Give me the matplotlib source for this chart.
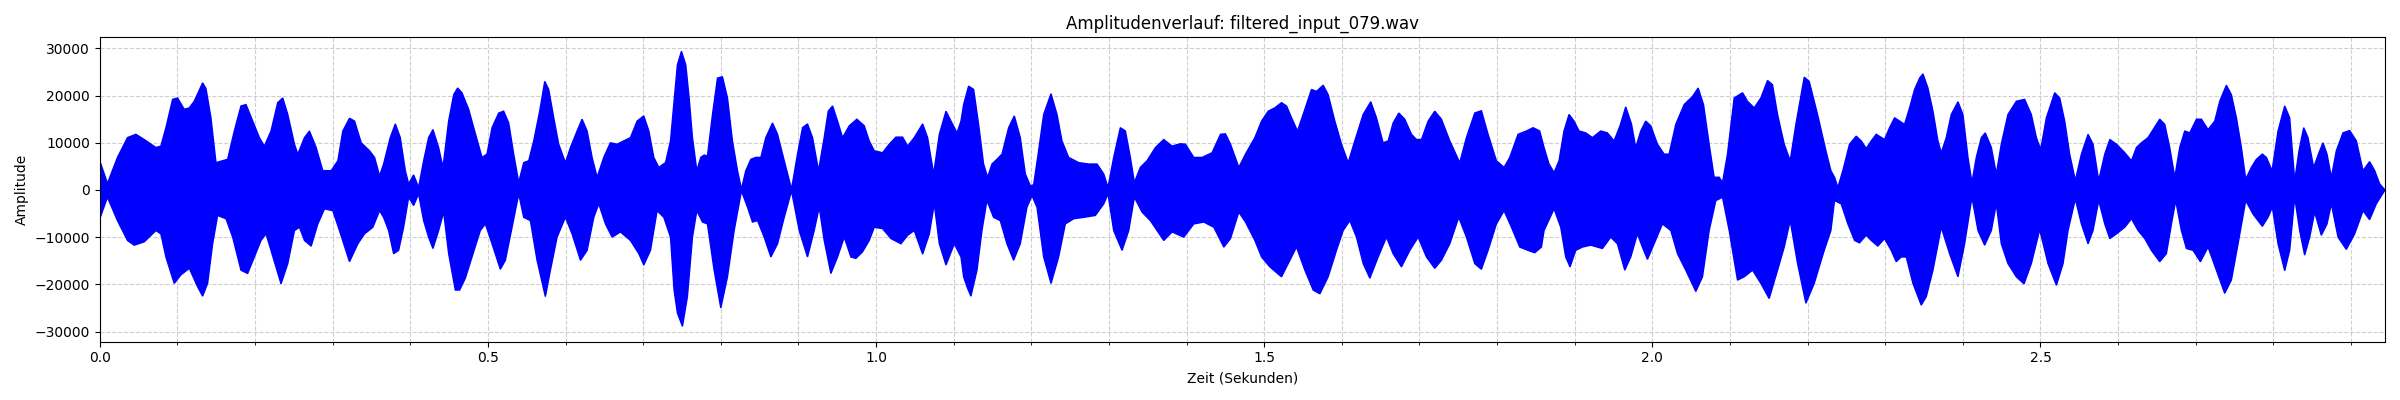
import numpy as np
import matplotlib
matplotlib.use("Agg")
import matplotlib.pyplot as plt
from matplotlib.ticker import MultipleLocator

title = "Amplitudenverlauf: filtered_input_079.wav"
x_label = "Zeit (Sekunden)"
y_label = "Amplitude"
duration = 2.9438

# Upper envelope of the waveform (time in s, amplitude)
upper_t = [
    0.0000, 0.0099, 0.0228, 0.0357, 0.0465, 0.0572, 0.0723, 0.0787, 0.0852, 0.0938,
    0.1002, 0.1088, 0.1153, 0.1217, 0.1325, 0.1368, 0.1432, 0.1497, 0.1583, 0.1647,
    0.1733, 0.1819, 0.1884, 0.1970, 0.2056, 0.2120, 0.2206, 0.2292, 0.2357, 0.2422,
    0.2508, 0.2551, 0.2637, 0.2701, 0.2787, 0.2873, 0.2981, 0.3067, 0.3131, 0.3217,
    0.3282, 0.3368, 0.3475, 0.3540, 0.3604, 0.3656,
    0.3742, 0.3807, 0.3871, 0.3936, 0.3979, 0.4043, 0.4107, 0.4172, 0.4236, 0.4292,
    0.4365, 0.4421, 0.4494, 0.4559, 0.4610, 0.4666, 0.4752, 0.4817, 0.4924, 0.4988,
    0.5053, 0.5139, 0.5203, 0.5268, 0.5332, 0.5397, 0.5461, 0.5526, 0.5590, 0.5667,
    0.5732, 0.5783, 0.5848, 0.5912, 0.5998, 0.6063, 0.6149, 0.6213, 0.6278, 0.6342,
    0.6407, 0.6492, 0.6578, 0.6664, 0.6750, 0.6836, 0.6922, 0.7008, 0.7073, 0.7137,
    0.7202, 0.7288, 0.7352,
    0.7398, 0.7441, 0.7493, 0.7549, 0.7592, 0.7635, 0.7691, 0.7742, 0.7785, 0.7828,
    0.7893, 0.7957, 0.8021, 0.8086, 0.8150, 0.8215, 0.8266, 0.8322, 0.8387, 0.8451,
    0.8516, 0.8580, 0.8666, 0.8731, 0.8817, 0.8911, 0.8988, 0.9053, 0.9117, 0.9182,
    0.9259, 0.9332, 0.9384, 0.9440, 0.9504, 0.9569, 0.9655, 0.9753, 0.9848, 0.9912,
    0.9977, 1.0084, 1.0170, 1.0256, 1.0342, 1.0407, 1.0492, 1.0600, 1.0664, 1.0742,
    1.0815, 1.0901, 1.0965, 1.1043, 1.1094,
    1.1128, 1.1192, 1.1257, 1.1321, 1.1385, 1.1437, 1.1493, 1.1557, 1.1622, 1.1708,
    1.1781, 1.1858, 1.1923, 1.1987, 1.2030, 1.2082, 1.2159, 1.2254, 1.2331, 1.2395,
    1.2481, 1.2610, 1.2739, 1.2847, 1.2933, 1.2988, 1.3061, 1.3147, 1.3212, 1.3276,
    1.3328, 1.3405, 1.3491, 1.3599, 1.3706, 1.3813, 1.3921, 1.3985, 1.4093, 1.4200,
    1.4329, 1.4437, 1.4501, 1.4566, 1.4673, 1.4759,
    1.4880, 1.4966, 1.5052, 1.5137, 1.5223, 1.5288, 1.5352, 1.5429, 1.5502, 1.5609,
    1.5674, 1.5760, 1.5824, 1.5910, 1.5996, 1.6082, 1.6167, 1.6275, 1.6373, 1.6446,
    1.6532, 1.6597, 1.6661, 1.6734, 1.6811, 1.6897, 1.6961, 1.7026, 1.7112, 1.7197,
    1.7283, 1.7391, 1.7519, 1.7605, 1.7712, 1.7798, 1.7884, 1.7991, 1.8090, 1.8163,
    1.8270, 1.8378, 1.8464, 1.8549,
    1.8605, 1.8669, 1.8734, 1.8798, 1.8862, 1.8927, 1.8991, 1.9056, 1.9142, 1.9228,
    1.9335, 1.9421, 1.9507, 1.9584, 1.9657, 1.9731, 1.9786, 1.9851, 1.9915, 1.9980,
    2.0066, 2.0152, 2.0216, 2.0302, 2.0410, 2.0517, 2.0590, 2.0659, 2.0732, 2.0796,
    2.0861, 2.0904, 2.0968, 2.1054, 2.1162, 2.1226, 2.1312, 2.1398, 2.1484, 2.1548,
    2.1613, 2.1699, 2.1776, 2.1849, 2.1957, 2.2021, 2.2128, 2.2236, 2.2300,
    2.2347, 2.2390, 2.2454, 2.2540, 2.2626, 2.2691, 2.2755, 2.2820, 2.2884, 2.2991,
    2.3056, 2.3120, 2.3185, 2.3249, 2.3314, 2.3378, 2.3443, 2.3486, 2.3550, 2.3615,
    2.3679, 2.3722, 2.3786, 2.3851, 2.3937, 2.4001, 2.4066, 2.4117, 2.4173, 2.4238,
    2.4289, 2.4367, 2.4431, 2.4495, 2.4581, 2.4689, 2.4796, 2.4882, 2.4947, 2.5003,
    2.5076, 2.5183, 2.5248, 2.5312, 2.5376, 2.5449, 2.5527, 2.5613, 2.5677, 2.5750,
    2.5828,
    2.5893, 2.5979, 2.6086, 2.6172, 2.6236, 2.6300, 2.6386, 2.6451, 2.6536, 2.6601,
    2.6665, 2.6730, 2.6794, 2.6858, 2.6923, 2.7009, 2.7073, 2.7159, 2.7245, 2.7309,
    2.7395, 2.7459, 2.7524, 2.7588, 2.7644, 2.7717, 2.7781, 2.7858, 2.7910, 2.7983,
    2.8060, 2.8146, 2.8210, 2.8275, 2.8330, 2.8391, 2.8446, 2.8519, 2.8588, 2.8639,
    2.8691, 2.8747, 2.8811, 2.8897, 2.8983, 2.9069, 2.9155, 2.9240, 2.9305, 2.9369,
    2.9438,
]
upper_v = [
    6180, 1400, 6900, 11100, 11800, 10700, 9000, 9300, 13200, 19200,
    19500, 17100, 17400, 18800, 22700, 21500, 15300, 5800, 6200, 6500,
    12500, 17800, 18100, 14600, 11100, 9300, 12500, 18500, 19500, 16000,
    9700, 7600, 11100, 12500, 9000, 4100, 4100, 6200, 12500, 15200,
    14600, 10000, 8300, 6900, 3000, 5500,
    11100, 14000, 11100, 4100, 1300, 3200, 560, 6200, 11100, 12800,
    9000, 4800, 14600, 20200, 21600, 20600, 17100, 13200, 6900, 7600,
    13200, 16300, 16700, 14200, 7600, 1600, 5800, 6200, 10400, 16700,
    23000, 21300, 15300, 9700, 5800, 9000, 12500, 15000, 12500, 6900,
    2700, 6900, 10000, 9700, 10400, 11100, 14600, 15700, 12500, 6900,
    4800, 5800, 10400,
    18800, 26500, 29400, 26500, 19500, 11100, 4100, 6900, 7400, 7200,
    16000, 23700, 24000, 19500, 10400, 4100, 200, 4100, 6500, 6900,
    6900, 11100, 14200, 11800, 6200, 200, 7600, 13200, 14000, 11100,
    4100, 11100, 16700, 17800, 14600, 11100, 13600, 15000, 13600, 10400,
    8300, 7900, 9700, 11200, 11200, 9300, 11100, 14000, 11100, 3400,
    11800, 16700, 14600, 12100, 14600,
    18100, 22000, 21300, 13900, 5500, 2700, 5500, 6500, 7600, 13200,
    15700, 11100, 3400, 900, 1100, 6900, 16000, 20400, 16000, 10400,
    6900, 5800, 5500, 5500, 3400, 560, 6900, 13200, 12500, 6900,
    1600, 4800, 6200, 9000, 10700, 9300, 9800, 9700, 6900, 6900,
    7900, 11800, 11900, 9700, 4800, 7600,
    11100, 14600, 16700, 17400, 18500, 17800, 15300, 12500, 16000, 21300,
    20900, 22200, 20200, 14600, 9700, 5800, 10400, 16000, 18700, 15300,
    10000, 10400, 14200, 16300, 15000, 11800, 10700, 10700, 14600, 16700,
    15000, 10400, 5800, 11100, 16300, 16800, 11800, 6200, 4800, 6900,
    11800, 12500, 13200, 12500,
    9000, 5500, 3700, 6200, 12500, 16000, 14600, 12500, 12100, 11100,
    12500, 12100, 10400, 13600, 17600, 14000, 9000, 12500, 14600, 13600,
    9700, 7600, 7600, 13900, 18100, 19800, 21600, 18100, 9700, 2700,
    2700, 1600, 7600, 19500, 20600, 18800, 17400, 19500, 23200, 22300,
    16000, 9700, 6200, 13900, 23900, 23000, 16000, 8300, 4100,
    2700, 560, 4100, 9700, 11400, 10400, 8800, 10400, 11800, 10700,
    13200, 15300, 14600, 13900, 17400, 21300, 23700, 24600, 21600, 16700,
    10400, 7900, 11100, 16000, 18700, 16000, 6900, 1600, 6900, 11100,
    12100, 9000, 3400, 9700, 16000, 18800, 19200, 16000, 11100, 8600,
    15300, 20600, 19500, 14600, 7600, 2000, 7600, 11800, 9700, 2000,
    7600,
    10700, 9700, 7900, 6200, 9000, 10000, 11100, 12800, 15000, 13900,
    9000, 2700, 9000, 12500, 12100, 15000, 15000, 12800, 14600, 18800,
    22200, 20200, 15300, 9000, 2300, 4800, 6500, 7600, 6900, 4100,
    12500, 17800, 15300, 2000, 8300, 13200, 11100, 4800, 7900, 10000,
    7600, 2700, 8300, 12100, 12600, 10400, 4100, 6000, 4100, 1300,
    0,
]

# Lower envelope of the waveform (time in s, amplitude)
lower_t = [
    0.0000, 0.0099, 0.0228, 0.0357, 0.0443, 0.0572, 0.0723, 0.0787, 0.0852, 0.0959,
    0.1045, 0.1153, 0.1260, 0.1325, 0.1389, 0.1454, 0.1518, 0.1626, 0.1712, 0.1819,
    0.1905, 0.1991, 0.2077, 0.2142, 0.2206, 0.2335, 0.2422, 0.2508, 0.2572, 0.2637,
    0.2723, 0.2809, 0.2895, 0.3002, 0.3088, 0.3217, 0.3325, 0.3411, 0.3518, 0.3604,
    0.3656,
    0.3721, 0.3785, 0.3850, 0.3914, 0.3979, 0.4043, 0.4107, 0.4172, 0.4236, 0.4292,
    0.4365, 0.4430, 0.4494, 0.4580, 0.4636, 0.4709, 0.4795, 0.4902, 0.4967, 0.5053,
    0.5160, 0.5225, 0.5311, 0.5397, 0.5461, 0.5547, 0.5633, 0.5740, 0.5805, 0.5891,
    0.5998, 0.6084, 0.6192, 0.6278, 0.6364, 0.6428, 0.6514, 0.6600, 0.6707, 0.6836,
    0.6944, 0.7008, 0.7094, 0.7180, 0.7266, 0.7352,
    0.7398, 0.7441, 0.7506, 0.7570, 0.7635, 0.7691, 0.7764, 0.7828, 0.7914, 0.8000,
    0.8086, 0.8172, 0.8266, 0.8344, 0.8408, 0.8473, 0.8559, 0.8645, 0.8731, 0.8817,
    0.8911, 0.9010, 0.9117, 0.9203, 0.9268, 0.9332, 0.9418, 0.9504, 0.9590, 0.9676,
    0.9740, 0.9826, 0.9912, 0.9977, 1.0084, 1.0192, 1.0321, 1.0407, 1.0492, 1.0600,
    1.0686, 1.0750, 1.0815, 1.0901, 1.1008, 1.1094,
    1.1128, 1.1171, 1.1222, 1.1300, 1.1364, 1.1428, 1.1514, 1.1600, 1.1686, 1.1772,
    1.1858, 1.1944, 1.2009, 1.2073, 1.2159, 1.2254, 1.2352, 1.2438, 1.2546, 1.2675,
    1.2825, 1.2933, 1.2988, 1.3061, 1.3169, 1.3255, 1.3328, 1.3427, 1.3534, 1.3620,
    1.3706, 1.3813, 1.3964, 1.4093, 1.4222, 1.4351, 1.4480, 1.4566, 1.4673, 1.4759,
    1.4880, 1.4966, 1.5073, 1.5223, 1.5309, 1.5416, 1.5524, 1.5631, 1.5717, 1.5824,
    1.5931, 1.6017, 1.6103, 1.6189, 1.6275, 1.6361, 1.6468, 1.6575, 1.6661, 1.6768,
    1.6876, 1.6983, 1.7090, 1.7197, 1.7283, 1.7391, 1.7506, 1.7605, 1.7712, 1.7798,
    1.7884, 1.7991, 1.8090, 1.8185, 1.8292, 1.8399, 1.8485, 1.8571,
    1.8605, 1.8734, 1.8820, 1.8884, 1.8940, 1.9013, 1.9099, 1.9206, 1.9357, 1.9464,
    1.9550, 1.9645, 1.9722, 1.9808, 1.9872, 1.9937, 2.0023, 2.0130, 2.0238, 2.0324,
    2.0431, 2.0560, 2.0646, 2.0732, 2.0818, 2.0904, 2.0990, 2.1097, 2.1183, 2.1291,
    2.1398, 2.1505, 2.1613, 2.1699, 2.1776, 2.1871, 2.1978, 2.2085, 2.2214, 2.2300,
    2.2347, 2.2433, 2.2519, 2.2605, 2.2669, 2.2755, 2.2820, 2.2905, 2.2991, 2.3077,
    2.3142, 2.3206, 2.3271, 2.3357, 2.3464, 2.3529, 2.3615, 2.3722, 2.3829, 2.3937,
    2.4023, 2.4117, 2.4195, 2.4281, 2.4367, 2.4431, 2.4495, 2.4581, 2.4689, 2.4788,
    2.4882, 2.4990, 2.5097, 2.5205, 2.5291, 2.5355, 2.5449, 2.5527, 2.5613, 2.5677,
    2.5750, 2.5828,
    2.5893, 2.5979, 2.6086, 2.6172, 2.6258, 2.6343, 2.6429, 2.6536, 2.6622, 2.6687,
    2.6742, 2.6815, 2.6880, 2.6966, 2.7060, 2.7159, 2.7266, 2.7373, 2.7459, 2.7545,
    2.7644, 2.7738, 2.7858, 2.7931, 2.7987, 2.8060, 2.8146, 2.8210, 2.8275, 2.8339,
    2.8403, 2.8468, 2.8532, 2.8618, 2.8691, 2.8747, 2.8833, 2.8940, 2.9047, 2.9155,
    2.9240, 2.9326, 2.9438,
]
lower_v = [
    -6100, -1550, -6500, -10700, -11700, -11000, -8600, -9300, -14200, -19800,
    -18000, -16600, -20500, -22500, -19800, -11400, -5400, -6100, -10000, -17000,
    -17700, -14200, -10700, -9300, -12800, -19900, -15600, -8600, -7900, -10700,
    -11900, -7200, -4000, -4400, -8600, -15200, -11400, -9300, -7900, -4400,
    -5800,
    -8600, -13500, -12800, -7900, -1550, -3300, -840, -6500, -10000, -12400,
    -8600, -4700, -13500, -21200, -21200, -18700, -14200, -8600, -7200, -11400,
    -16800, -14900, -7900, -840, -5800, -6500, -14900, -22600, -17000, -10000,
    -5800, -9300, -14900, -12800, -5800, -2950, -7200, -10000, -8900, -10700,
    -13500, -15900, -12800, -4400, -5800, -10000,
    -21200, -26100, -28900, -22600, -10000, -4400, -6800, -7200, -17000, -25000,
    -18400, -8600, -200, -3650, -6800, -6500, -10000, -14200, -11400, -5800,
    -200, -8600, -14200, -8600, -3650, -10700, -17700, -14200, -10000, -14200,
    -14500, -13100, -10700, -7900, -8200, -10300, -11400, -9600, -8600, -13600,
    -9300, -2950, -11400, -15900, -11400, -14200,
    -18400, -20500, -22500, -17000, -8600, -2250, -5800, -6500, -11400, -14900,
    -11400, -3650, -1200, -3650, -14200, -19800, -14200, -7200, -6100, -5800,
    -5400, -2950, -840, -8600, -12800, -8600, -1550, -4700, -6500, -8600,
    -10700, -8900, -10000, -7200, -6800, -7900, -12100, -10300, -4700, -6800,
    -10700, -14200, -16300, -18400, -15600, -12100, -17000, -21200, -22000, -18400,
    -12800, -8600, -6500, -10000, -15600, -18700, -14200, -10000, -13500, -16300,
    -12800, -10000, -14200, -16600, -14900, -11400, -5800, -10000, -15600, -16800,
    -12800, -7200, -4400, -7900, -12100, -12800, -13300, -12100,
    -8600, -4000, -7900, -14200, -16300, -12800, -12100, -11700, -12400, -10000,
    -11400, -17000, -14200, -9300, -12100, -14700, -11400, -7200, -8600, -13500,
    -17000, -21500, -18400, -8600, -2250, -1550, -8600, -19100, -18400, -17000,
    -19800, -23000, -17000, -12100, -6500, -15600, -24000, -19800, -12800, -8600,
    -2250, -2950, -7200, -10700, -11200, -9600, -10700, -11900, -10300, -12800,
    -15200, -14200, -14200, -19800, -24400, -22600, -17000, -7900, -13500, -18400,
    -11400, -1550, -8600, -11700, -8600, -2950, -11400, -15600, -18400, -19900,
    -15600, -8400, -15600, -20200, -15600, -8600, -1900, -7200, -11400, -8600,
    -2250, -7200,
    -10300, -9300, -7900, -6100, -8600, -10300, -12800, -15200, -13500, -7200,
    -2250, -8600, -12400, -12800, -15200, -12100, -17000, -21900, -19100, -11400,
    -2250, -5100, -7700, -5800, -3650, -11400, -17100, -12800, -1550, -8600,
    -13800, -10000, -4700, -9600, -7200, -2950, -10000, -12600, -9300, -4400,
    -6300, -2950, 0,
]

fig, ax = plt.subplots(figsize=(24, 4), dpi=100)

poly_t = np.concatenate([np.asarray(upper_t), np.asarray(lower_t)[::-1]])
poly_v = np.concatenate([np.asarray(upper_v), np.asarray(lower_v)[::-1]])
ax.fill(poly_t, poly_v, facecolor="blue", edgecolor="blue", linewidth=1.0, zorder=2)

ax.set_title(title)
ax.set_xlabel(x_label)
ax.set_ylabel(y_label)
ax.set_xlim(0, duration)
ax.set_ylim(-32150, 32340)
ax.xaxis.set_major_locator(MultipleLocator(0.5))
ax.xaxis.set_minor_locator(MultipleLocator(0.1))
ax.yaxis.set_major_locator(MultipleLocator(10000))
ax.grid(True, which="both", linestyle="--", alpha=0.6, zorder=0)
ax.set_axisbelow(True)

fig.tight_layout()
fig.savefig("out.png", dpi=100)
